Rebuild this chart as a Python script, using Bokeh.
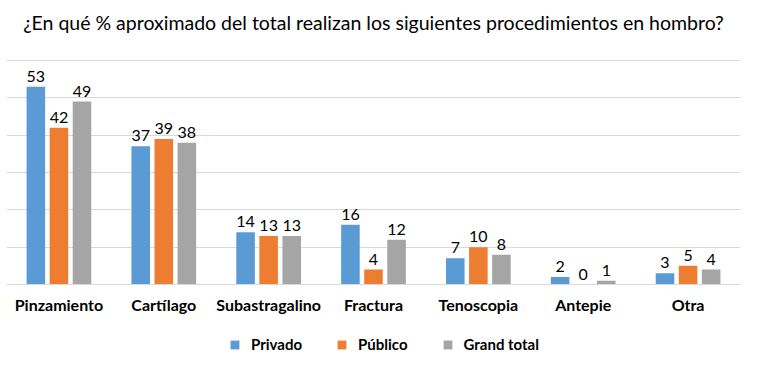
from bokeh.plotting import figure
from bokeh.layouts import column
from bokeh.models import ColumnDataSource, FactorRange, Range1d, LabelSet, Label, Legend, LegendItem
from bokeh.core.properties import value
from bokeh.transform import dodge
from bokeh.embed import file_html
from bokeh.resources import INLINE

title_text = "¿En qué % aproximado del total realizan los siguientes procedimientos en hombro?"
categories = ["Pinzamiento", "Cartílago", "Subastragalino", "Fractura", "Tenoscopia", "Antepie", "Otra"]
privado = [53, 37, 14, 16, 7, 2, 3]
publico = [42, 39, 13, 4, 10, 0, 5]
grand_total = [49, 38, 13, 12, 8, 1, 4]
series_names = ["Privado", "Público", "Grand total"]
colors = ["#5B9BD5", "#ED7D31", "#A5A5A5"]
grid_values = [0, 10, 20, 30, 40, 50, 60]

FONT = "Lato"
PLOT_H = 224      # height of the gridded area
TITLE_SPACE = 54  # room above it, inside the frame, for the title
FRAME_W = 734
FRAME_H = PLOT_H + TITLE_SPACE
y_top = 60 * FRAME_H / PLOT_H

p = figure(frame_width=FRAME_W, frame_height=FRAME_H, x_range=FactorRange(*categories),
           y_range=Range1d(0, y_top), output_backend="svg", toolbar_location=None,
           min_border_left=6, min_border_right=7, min_border_top=6, min_border_bottom=46)
p.outline_line_color = None

p.add_layout(Label(x=FRAME_W / 2, y=PLOT_H + 38, x_units="screen", y_units="screen",
                   text=title_text, text_align="center", text_baseline="middle",
                   text_font=FONT, text_font_size="19.5px", text_color="#000000"))

src = ColumnDataSource(dict(cat=categories, privado=privado, publico=publico, total=grand_total,
                            l_priv=[str(v) for v in privado], l_pub=[str(v) for v in publico],
                            l_tot=[str(v) for v in grand_total]))

keys = ["privado", "publico", "total"]
lkeys = ["l_priv", "l_pub", "l_tot"]
offsets = [-0.22, 0.0, 0.22]
for k, lk, off, c in zip(keys, lkeys, offsets, colors):
    p.vbar(x=dodge("cat", off, range=p.x_range), top=k, width=0.177, source=src,
           fill_color=c, line_color=None)
    p.add_layout(LabelSet(x=dodge("cat", off, range=p.x_range), y=k, text=lk, source=src,
                          text_align="center", text_baseline="bottom", y_offset=5,
                          text_font=value(FONT), text_font_size="16px", text_color="#000000"))

p.yaxis.visible = False
p.ygrid.grid_line_color = "#D9D9D9"
p.ygrid.ticker = grid_values
p.xgrid.grid_line_color = None
p.xaxis.axis_line_color = "#D9D9D9"
p.xaxis.major_tick_line_color = None
p.xaxis.minor_tick_line_color = None
p.xaxis.major_tick_out = 0
p.xaxis.major_tick_in = 0
p.xaxis.major_label_text_font = FONT
p.xaxis.major_label_text_font_size = "16px"
p.xaxis.major_label_text_font_style = "bold"
p.xaxis.major_label_text_color = "#000000"
p.xaxis.major_label_standoff = 10
p.xaxis.group_text_font_size = "0px"

# legend strip (its series renderers are hidden; only the legend entries show)
lf = figure(frame_width=FRAME_W, frame_height=30, output_backend="svg", toolbar_location=None,
            x_range=FactorRange(*categories), y_range=Range1d(0, 60),
            min_border_left=6, min_border_right=7, min_border_top=0, min_border_bottom=0)
lf.axis.visible = False
lf.grid.visible = False
lf.outline_line_color = None
lrs = []
for k, off, c in zip(keys, offsets, colors):
    lrs.append(lf.vbar(x=dodge("cat", off, range=lf.x_range), top=k, width=0.177, source=src,
                       fill_color=c, line_color=None, visible=False))
legend = Legend(items=[LegendItem(label=n, renderers=[r]) for n, r in zip(series_names, lrs)],
                orientation="horizontal", location=(223, 7),
                label_text_font=FONT, label_text_font_size="15px", label_text_font_style="bold",
                label_text_color="#000000", glyph_width=11, glyph_height=11, spacing=34,
                label_standoff=11, border_line_color=None, background_fill_alpha=0,
                inactive_fill_alpha=0, margin=0, padding=0, label_height=16,
                click_policy="none")
lf.add_layout(legend, "center")

layout = column(p, lf, spacing=0)
open("out.html", "w").write(file_html(layout, INLINE))
